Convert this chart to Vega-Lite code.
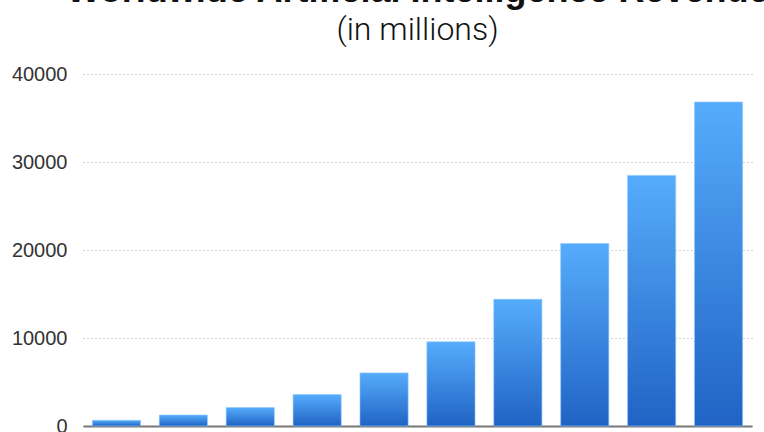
{
  "$schema": "https://vega.github.io/schema/vega-lite/v6.json",
  "autosize": "none",
  "width": 669,
  "height": 352,
  "padding": {"left": 83, "top": 74, "right": 12, "bottom": 6},
  "background": "white",
  "title": {
    "text": "Worldwide Artificial Intelligence Revenue",
    "subtitle": "(in millions)",
    "anchor": "middle",
    "frame": "group",
    "font": "Liberation Sans",
    "fontSize": 36,
    "fontWeight": "bold",
    "color": "#111111",
    "subtitleFont": "Roboto",
    "subtitleFontWeight": 300,
    "subtitleFontSize": 32,
    "subtitleColor": "#111111",
    "subtitlePadding": 5,
    "offset": 17
  },
  "config": {
    "view": {"stroke": null},
    "axis": {"labelFont": "Liberation Sans"}
  },
  "data": {
    "values": [
      {"year": "2016", "revenue": 644},
      {"year": "2017", "revenue": 1248},
      {"year": "2018", "revenue": 2093},
      {"year": "2019", "revenue": 3574},
      {"year": "2020", "revenue": 6036},
      {"year": "2021", "revenue": 9568},
      {"year": "2022", "revenue": 14402},
      {"year": "2023", "revenue": 20741},
      {"year": "2024", "revenue": 28480},
      {"year": "2025", "revenue": 36818}
    ]
  },
  "mark": {
    "type": "bar",
    "color": {
      "gradient": "linear",
      "x1": 0, "y1": 0, "x2": 0, "y2": 1,
      "stops": [
        {"offset": 0, "color": "#56acfc"},
        {"offset": 1, "color": "#2063c4"}
      ]
    },
    "stroke": "#8ccaff",
    "strokeWidth": 1,
    "strokeOpacity": 0.6
  },
  "encoding": {
    "x": {
      "field": "year",
      "type": "ordinal",
      "scale": {"paddingInner": 0.28, "paddingOuter": 0.14},
      "axis": {
        "title": null,
        "labels": false,
        "ticks": false,
        "domainColor": "#777777",
        "domainWidth": 2
      }
    },
    "y": {
      "field": "revenue",
      "type": "quantitative",
      "scale": {"domain": [0, 40000]},
      "axis": {
        "title": null,
        "values": [0, 10000, 20000, 30000, 40000],
        "format": "d",
        "domain": false,
        "ticks": false,
        "labelFontSize": 20,
        "labelColor": "#333333",
        "labelPadding": 16,
        "gridColor": "#aaaaaa",
        "gridDash": [1, 3],
        "gridWidth": 1
      }
    }
  }
}
